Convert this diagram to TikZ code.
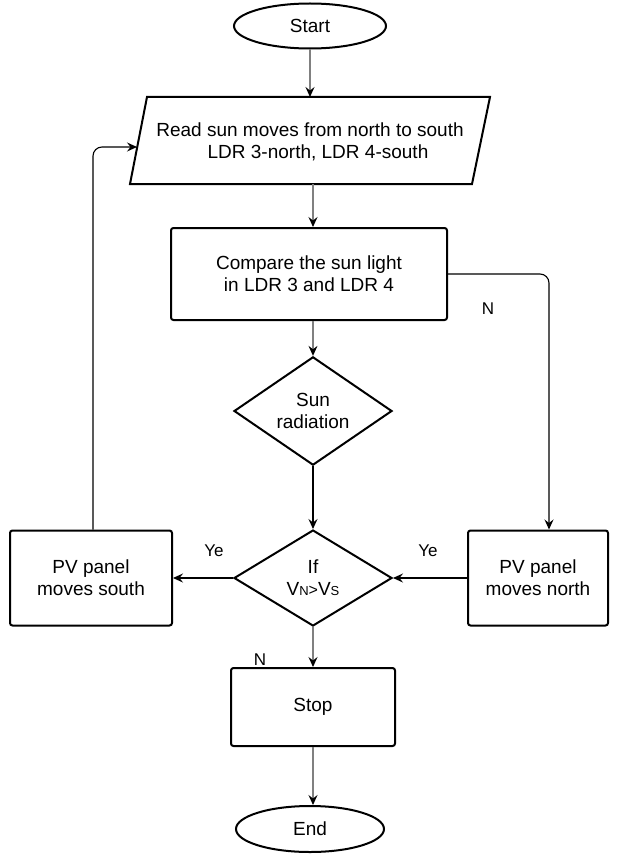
\documentclass[tikz,border=0pt]{standalone}
\usepackage{fontspec}
\setmainfont{Liberation Sans}
\usetikzlibrary{shapes.geometric,arrows.meta}
\begin{document}
\begin{tikzpicture}[x=1pt,y=-1pt,
  every node/.style={font=\fontsize{19}{22}\selectfont, align=center},
  boxstyle/.style={draw, line width=2pt, rounded corners=2.5pt, inner sep=0pt},
  termstyle/.style={draw, ellipse, line width=2pt, inner sep=0pt},
  decstyle/.style={draw, diamond, line width=2pt, inner sep=0pt},
  blk/.style={line width=1.1pt, -{Stealth[length=10pt,width=9pt,inset=3.5pt]}},
  gry/.style={line width=1.1pt, draw=gray, -{Stealth[length=10pt,width=9pt,inset=3.5pt,color=black]}},
  lbl/.style={font=\fontsize{17}{20}\selectfont}]
\useasboundingbox (0,0) rectangle (620,856);
% Start
\node[termstyle, minimum width=152pt, minimum height=45pt] (start) at (310,26) {Start};
% Read (parallelogram)
\coordinate (p1) at (147,97);
\coordinate (p2) at (490,97);
\coordinate (p3) at (472,184);
\coordinate (p4) at (130,184);
\draw[line width=2pt, line join=miter] (p1) -- (p2) -- (p3) -- (p4) -- cycle;
\node (read) at (310,142) {Read sun moves from north to south\\\hspace*{16pt}LDR 3-north, LDR 4-south};
\coordinate (readtop) at (310,97);
\coordinate (readbot) at (313,184);
\coordinate (readL) at (137,147);
% Compare
\node[boxstyle, minimum width=276pt, minimum height=92pt] (cmp) at (309,274) {Compare the sun light\\in LDR 3 and LDR 4};
% Sun radiation
\node[decstyle, minimum width=158pt, minimum height=88pt] (sun) at (313,411) {Sun\\radiation};
% If
\node[decstyle, minimum width=158pt, minimum height=96pt] (if) at (313,578) {If\\V{\fontsize{13}{14}\selectfont N}{\fontsize{16}{18}\selectfont >}V{\fontsize{13}{14}\selectfont S}};
% PV south
\node[boxstyle, minimum width=162pt, minimum height=95pt] (pvs) at (91,578) {PV panel\\moves south};
% PV north
\node[boxstyle, minimum width=140pt, minimum height=95pt] (pvn) at (538,578) {PV panel\\moves north};
% Stop
\node[boxstyle, minimum width=164pt, minimum height=78pt] (stop) at (313,707) {Stop};
% End
\node[termstyle, minimum width=148pt, minimum height=46pt] (end) at (310,829) {End};
% connectors
\draw[gry] (start.south -| readtop) -- (readtop);
\draw[gry] (readbot) -- (readbot |- cmp.north);
\draw[gry] (cmp.south -| sun.north) -- (sun.north);
\draw[blk] (sun.south) -- (if.north);
\draw[blk] (if.west) -- (pvs.east);
\draw[blk] (pvn.west) -- (if.east);
\coordinate (nr) at (549,274);
\draw[blk, rounded corners=9pt] (cmp.east) -- (nr) -- (nr |- pvn.north);
\coordinate (sl) at (93,147);
\draw[blk, rounded corners=9pt] (sl |- pvs.north) -- (sl) -- (readL);
\draw[gry] (if.south) -- (if.south |- stop.north);
\draw[gry] (stop.south) -- (stop.south |- end.north);
% labels
\node[lbl] (ye1) at (214,551) {Ye};
\node[lbl] (ye2) at (428,551) {Ye};
\node[lbl] (n1) at (488,309) {N};
\node[lbl] (n2) at (260,660) {N};
\end{tikzpicture}
\end{document}
